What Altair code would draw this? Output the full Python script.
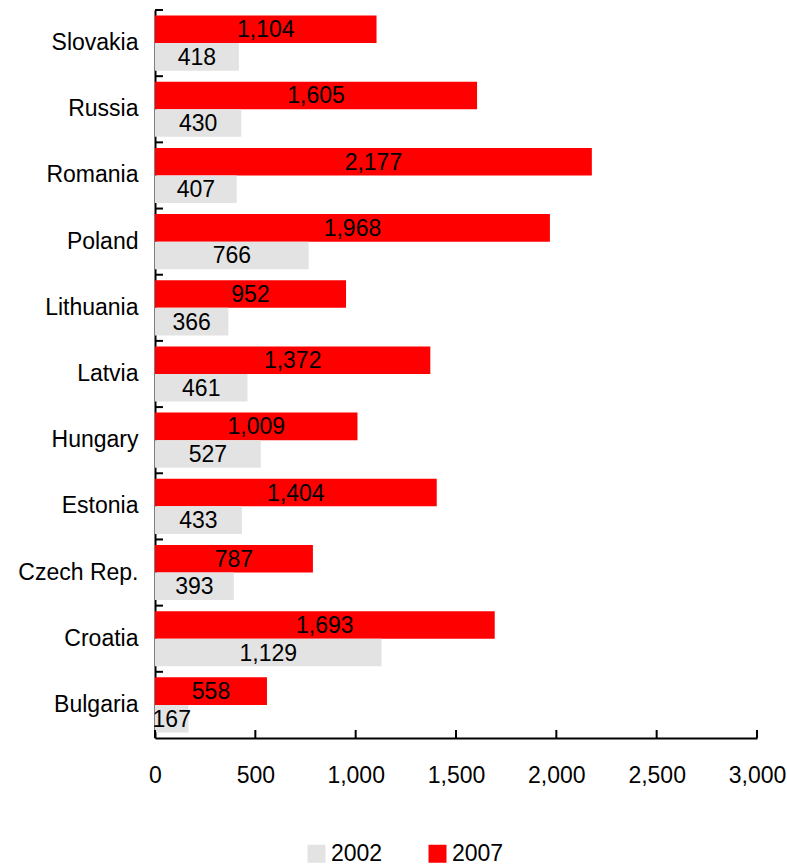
import altair as alt
import pandas as pd

countries = ["Slovakia", "Russia", "Romania", "Poland", "Lithuania", "Latvia",
             "Hungary", "Estonia", "Czech Rep.", "Croatia", "Bulgaria"]
values_2007 = [1104, 1605, 2177, 1968, 952, 1372, 1009, 1404, 787, 1693, 558]
values_2002 = [418, 430, 407, 766, 366, 461, 527, 433, 393, 1129, 167]
years = ["2002", "2007"]
x_ticks = [0, 500, 1000, 1500, 2000, 2500, 3000]

rows = []
for c, v7, v2 in zip(countries, values_2007, values_2002):
    rows.append({"country": c, "year": "2007", "value": v7})
    rows.append({"country": c, "year": "2002", "value": v2})
df = pd.DataFrame(rows)

FONT = "Liberation Sans"
FS = 23
W, H = 602, 728

xscale = alt.Scale(domain=[0, 3000], nice=False, zero=True)
yscale = alt.Scale(domain=countries, paddingInner=0, paddingOuter=0)
yoff = alt.YOffset("year:N", sort=["2007", "2002"],
                   scale=alt.Scale(paddingInner=0, paddingOuter=0.2))

xaxis = alt.Axis(values=x_ticks, labelExpr="format(datum.value, ',')",
                 ticks=False, grid=False, labelFlush=False,
                 domain=True, domainColor="black", domainWidth=2,
                 labelPadding=26, labelFontSize=FS, labelFont=FONT,
                 labelColor="black", title=None)
yaxis = alt.Axis(ticks=False, grid=False, domain=True,
                 domainColor="black", domainWidth=2,
                 labelPadding=17, labelFontSize=FS, labelFont=FONT,
                 labelColor="black", title=None)

bars = alt.Chart(df).mark_bar().encode(
    x=alt.X("value:Q", scale=xscale, axis=xaxis),
    y=alt.Y("country:N", scale=yscale, sort=countries, axis=yaxis),
    yOffset=yoff,
    color=alt.Color("year:N", scale=alt.Scale(domain=years, range=["#E3E3E3", "#FF0000"]),
                    legend=alt.Legend(title=None)),
)

labels = alt.Chart(df).transform_calculate(mid="datum.value / 2").mark_text(
    fontSize=FS, font=FONT, color="black", baseline="middle", align="center", dy=1
).encode(
    x=alt.X("mid:Q", scale=xscale, axis=xaxis),
    y=alt.Y("country:N", scale=yscale, sort=countries, axis=yaxis),
    yOffset=yoff,
    text=alt.Text("value:Q", format=","),
)

ytick_df = pd.DataFrame({"country": countries})
yticks = alt.Chart(ytick_df).mark_rule(color="black", strokeWidth=2).encode(
    y=alt.Y("country:N", scale=yscale, sort=countries, axis=yaxis, bandPosition=0),
    x=alt.value(0),
    x2=alt.value(8),
)

xtick_df = pd.DataFrame({"tick": x_ticks})
xticks = alt.Chart(xtick_df).mark_rule(color="black", strokeWidth=2).encode(
    x=alt.X("tick:Q", scale=xscale, axis=xaxis),
    y=alt.value(H),
    y2=alt.value(H - 8),
)

chart = alt.layer(bars, labels, yticks, xticks).properties(
    width=W, height=H,
    autosize=alt.AutoSizeParams(type="none"),
    padding={"left": 155, "top": 10, "right": 30, "bottom": 127},
).configure_view(stroke=None).configure_legend(
    orient="none", legendX=150, legendY=832, direction="horizontal",
    symbolType="square", symbolSize=324, symbolStrokeWidth=0,
    labelFontSize=FS, labelFont=FONT, labelColor="black", labelOffset=3,
    columnPadding=43, padding=0,
)

chart.save("out.html", embed_options={"renderer": "svg", "actions": False})
